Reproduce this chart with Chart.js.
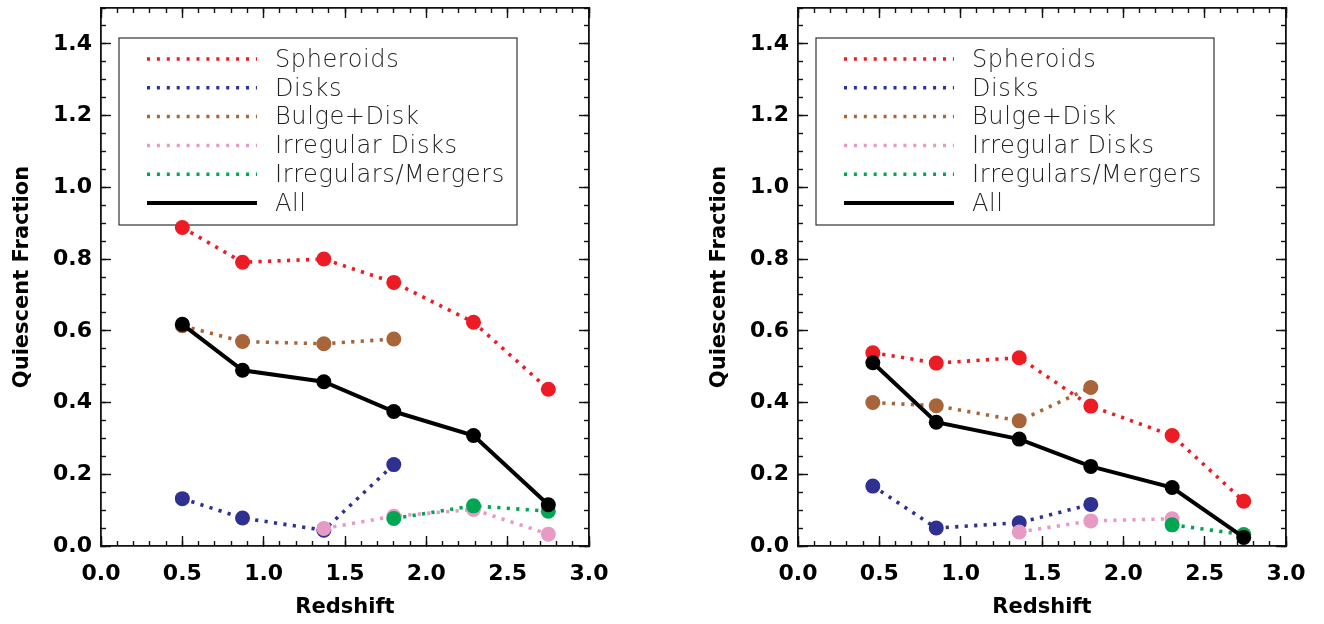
<!DOCTYPE html>
<html>
<head>
<meta charset="utf-8">
<script src="https://cdn.jsdelivr.net/npm/chart.js@4.4.0/dist/chart.umd.min.js"></script>
<style>
    html, body { margin: 0; padding: 0; background: #fff; }
    #wrap { position: relative; width: 1324px; height: 624px; overflow: hidden; }
    .panel { position: absolute; top: 0; }
</style>
</head>
<body>
<div id="wrap">
    <div class="panel" style="left:0"><canvas id="leftChart" width="630" height="624"></canvas></div>
    <div class="panel" style="left:697px"><canvas id="rightChart" width="630" height="624"></canvas></div>
</div>
<script>
// series names and colours, shared by both panels
const seriesLabels = ["Spheroids", "Disks", "Bulge+Disk", "Irregular Disks", "Irregulars/Mergers", "All"];
const seriesColors = ["#ed1c24", "#2e3192", "#a8653a", "#e79ac3", "#00a651", "#000000"];

// labelled ticks
const xTickValues = [0.0, 0.5, 1.0, 1.5, 2.0, 2.5, 3.0];
const yTickValues = [0.0, 0.2, 0.4, 0.6, 0.8, 1.0, 1.2, 1.4];

// left panel
const leftRedshift = [0.50, 0.87, 1.37, 1.80, 2.29, 2.75];
const leftSpheroids = [0.888, 0.791, 0.800, 0.735, 0.624, 0.437];
const leftDisks = [0.132, 0.078, 0.044, 0.227, null, null];
const leftBulgeDisk = [0.614, 0.570, 0.564, 0.577, null, null];
const leftIrrDisks = [null, null, 0.049, 0.083, 0.102, 0.033];
const leftIrrMergers = [null, null, null, 0.077, 0.112, 0.097];
const leftAll = [0.618, 0.490, 0.458, 0.375, 0.308, 0.115];

// right panel
const rightRedshift = [0.46, 0.85, 1.36, 1.80, 2.30, 2.74];
const rightSpheroids = [0.539, 0.510, 0.525, 0.390, 0.308, 0.125];
const rightDisks = [0.167, 0.050, 0.065, 0.116, null, null];
const rightBulgeDisk = [0.400, 0.391, 0.349, 0.442, null, null];
const rightIrrDisks = [null, null, 0.039, 0.070, 0.076, null];
const rightIrrMergers = [null, null, null, null, 0.059, 0.032];
const rightAll = [0.511, 0.345, 0.298, 0.222, 0.163, 0.024];

const DOTS = [3.2, 6.3];

function buildDatasets(xs, series) {
    // "All" goes on top, then mergers, irregular disks...
    const drawOrder = [5, 4, 2, 3, 1, 0];
    return series.map((vals, i) => {
        const last = i === series.length - 1;
        return {
            label: seriesLabels[i],
            data: xs.map((x, k) => ({ x: x, y: vals[k] })),
            borderColor: seriesColors[i],
            backgroundColor: seriesColors[i],
            pointBackgroundColor: seriesColors[i],
            pointBorderWidth: 0,
            pointRadius: 7.5,
            borderWidth: last ? 4 : 3.6,
            borderDash: last ? [] : DOTS,
            tension: 0,
            spanGaps: false,
            order: drawOrder[i],
        };
    });
}

function fixSize(size) {
    return (scale) => {
        if (scale.isHorizontal()) scale.height = size; else scale.width = size;
        scale.paddingLeft = scale.paddingRight = scale.paddingTop = scale.paddingBottom = 0;
    };
}

function tickGrid(len) {
    return { drawOnChartArea: false, drawTicks: true, tickLength: -len, tickColor: "#111", tickWidth: 1.4 };
}

function makeScales() {
    const labelFont = { family: "DejaVu Sans", weight: "bold", size: 22 };
    const titleFont = { family: "DejaVu Sans", weight: "bold", size: 21 };
    const frame = { display: true, color: "#111", width: 1.8 };
    const hidden = { display: false };
    const fmt = (v) => Number(v).toFixed(1);
    const side = (axis, position, min, max, step, len, weight, border) => ({
        type: "linear", axis: axis, position: position, min: min, max: max, weight: weight,
        grid: tickGrid(len),
        border: border,
        ticks: { display: false, stepSize: step, includeBounds: false, autoSkip: false },
        afterFit: fixSize(0),
    });
    return {
        x: {
            type: "linear", position: "bottom", min: 0, max: 3, weight: 1,
            grid: tickGrid(10),
            border: frame,
            ticks: {
                stepSize: 0.5, autoSkip: false, maxRotation: 0, padding: 25,
                color: "#000", font: labelFont,
                callback: (v) => xTickValues.includes(v) ? fmt(v) : "",
            },
            title: { display: true, text: "Redshift", color: "#000", font: titleFont, padding: { top: 0, bottom: 4 } },
            afterFit: fixSize(78),
        },
        y: {
            type: "linear", position: "left", min: 0, max: 1.5, weight: 1,
            grid: tickGrid(10),
            border: frame,
            ticks: {
                stepSize: 0.2, includeBounds: false, autoSkip: false, padding: 19,
                color: "#000", font: labelFont,
                callback: (v) => yTickValues.includes(Math.round(v * 10) / 10) ? fmt(v) : "",
            },
            title: { display: true, text: "Quiescent Fraction", color: "#000", font: titleFont, padding: { top: 10, bottom: 0 } },
            afterFit: fixSize(101),
        },
        xMinor: side("x", "bottom", 0, 3, 0.1, 5, 0, hidden),
        yMinor: side("y", "left", 0, 1.5, 0.05, 5, 0, hidden),
        xTop: side("x", "top", 0, 3, 0.5, 10, 1, frame),
        xTopMinor: side("x", "top", 0, 3, 0.1, 5, 0, hidden),
        yRight: side("y", "right", 0, 1.5, 0.2, 10, 1, frame),
        yRightMinor: side("y", "right", 0, 1.5, 0.05, 5, 0, hidden),
    };
}

// legend box drawn inside the plot, IDL style
const boxLegend = {
    id: "boxLegend",
    beforeDatasetsDraw(chart) {
        const { ctx, chartArea } = chart;
        const x0 = chartArea.left + 18;
        const y0 = chartArea.top + 30;
        ctx.save();
        ctx.strokeStyle = "#333";
        ctx.lineWidth = 1.2;
        ctx.strokeRect(x0, y0, 398, 187);
        ctx.font = "200 24px 'DejaVu Sans', sans-serif";
        ctx.letterSpacing = "0.6px";
        ctx.textBaseline = "middle";
        ctx.fillStyle = "#222";
        seriesLabels.forEach((label, i) => {
            const y = y0 + 21 + i * 28.8;
            const last = i === seriesLabels.length - 1;
            ctx.beginPath();
            ctx.strokeStyle = seriesColors[i];
            ctx.lineWidth = last ? 4 : 3.5;
            ctx.setLineDash(last ? [] : [3, 6.9]);
            ctx.moveTo(x0 + 28, y);
            ctx.lineTo(x0 + 138, y);
            ctx.stroke();
            ctx.fillText(label, x0 + 156, y + 1.5);
        });
        ctx.restore();
    },
};

function makeChart(id, xs, series) {
    return new Chart(document.getElementById(id), {
        type: "line",
        data: { datasets: buildDatasets(xs, series) },
        options: {
            responsive: false,
            animation: false,
            devicePixelRatio: 1,
            layout: { padding: { left: 0, top: 8, right: 41, bottom: 0 } },
            plugins: { legend: { display: false }, tooltip: { enabled: false } },
            scales: makeScales(),
        },
        plugins: [boxLegend],
    });
}

makeChart("leftChart", leftRedshift,
    [leftSpheroids, leftDisks, leftBulgeDisk, leftIrrDisks, leftIrrMergers, leftAll]);
makeChart("rightChart", rightRedshift,
    [rightSpheroids, rightDisks, rightBulgeDisk, rightIrrDisks, rightIrrMergers, rightAll]);
</script>
</body>
</html>
